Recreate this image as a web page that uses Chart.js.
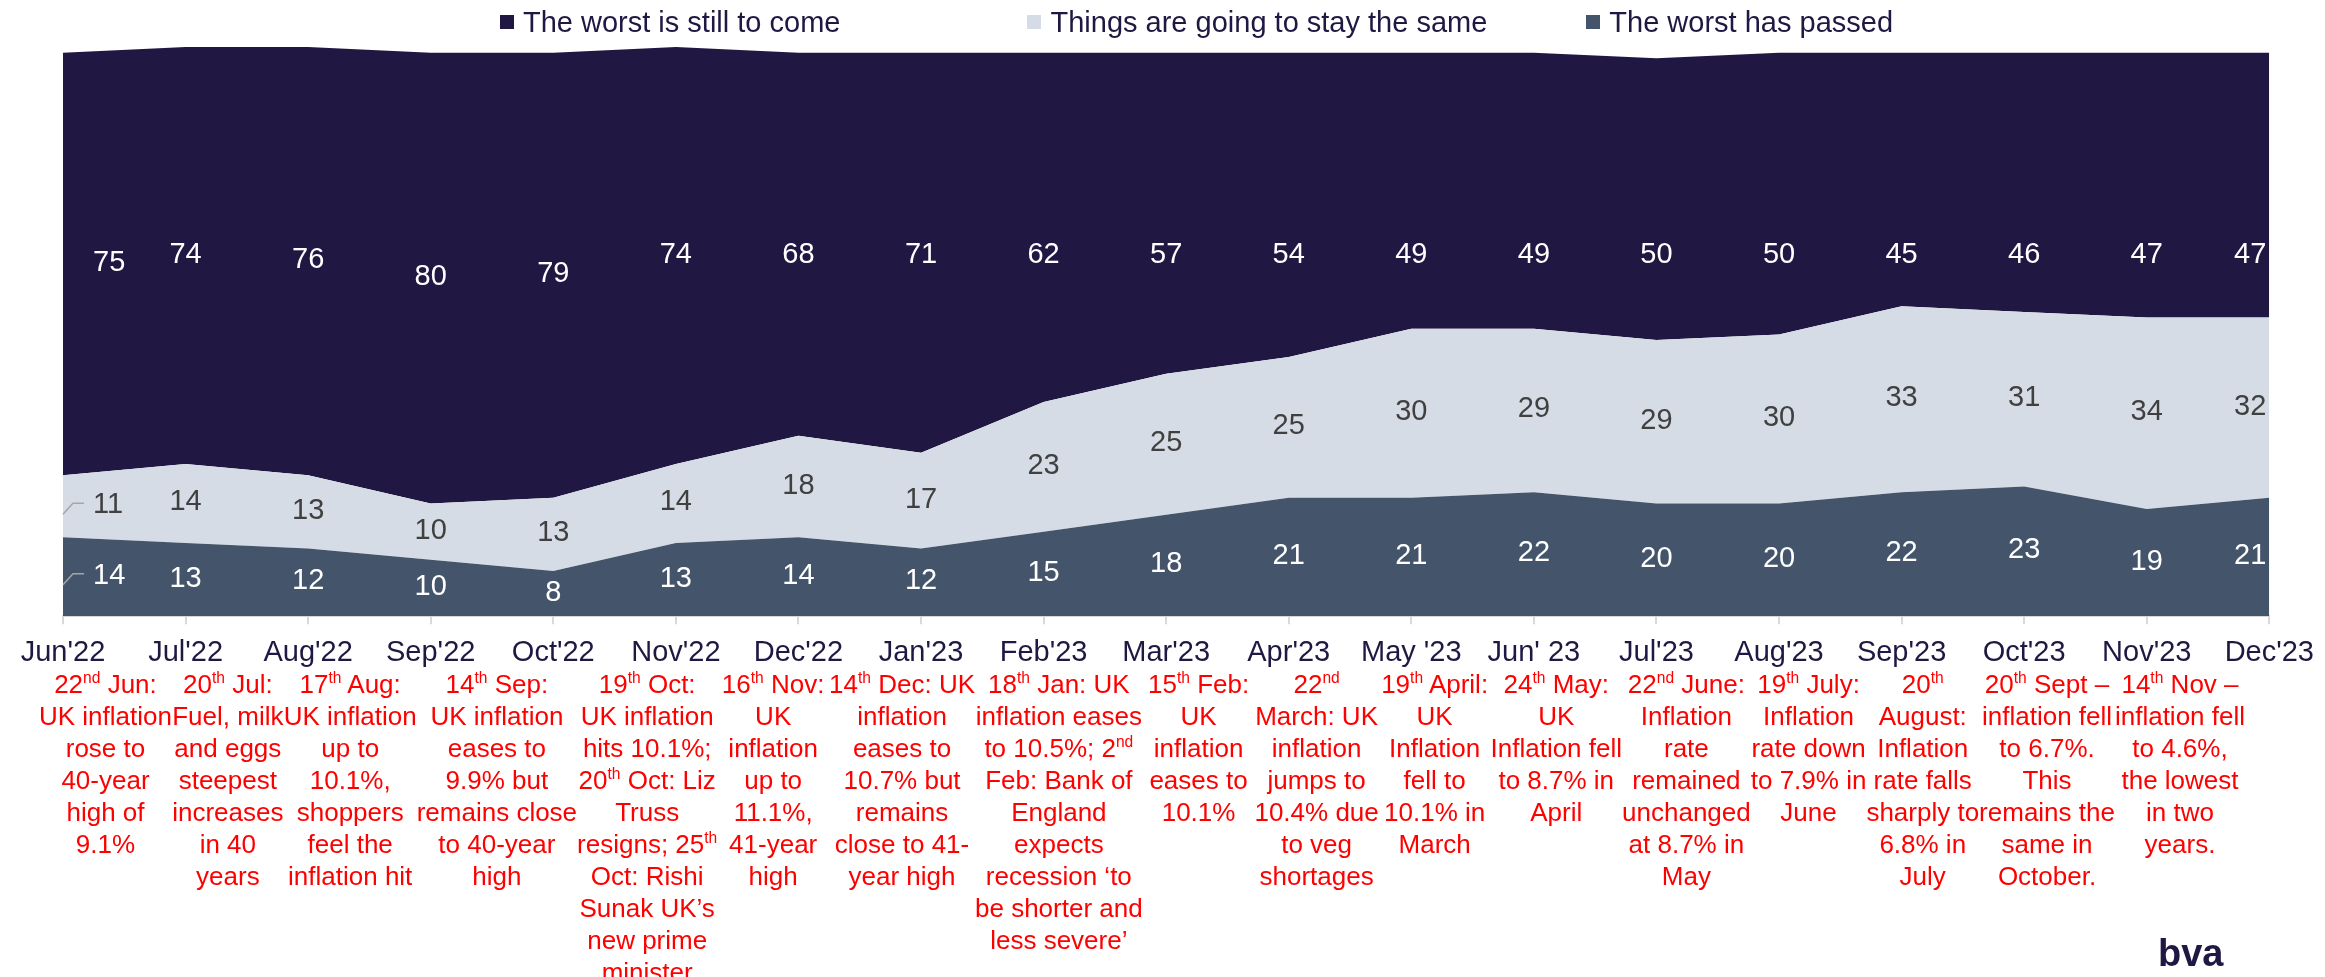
<!DOCTYPE html>
<html lang="en">
<head>
<meta charset="UTF-8">
<title>Outlook: the worst still to come?</title>
<script src="https://cdn.jsdelivr.net/npm/chart.js@4"></script>
<style>
  html, body { margin: 0; padding: 0; background: #fff; }
  #wrap { position: relative; width: 2325px; height: 977px; overflow: hidden; }
  #legend { position: absolute; top: 5px; left: 500px; display: flex; height: 34px; line-height: 34px;
            font: 29px "Liberation Sans", Arial, sans-serif; color: #201843; white-space: nowrap; }
  #legend .item { display: flex; align-items: center; }
  #legend .box { width: 14px; height: 14px; margin-right: 9px; }
  #notes { position: absolute; top: 668px; left: 39px; width: 2206px; display: flex; }
  .note { flex: 1 1 0; text-align: center; white-space: nowrap; color: #ff0000;
          font: 26px/32px "Liberation Sans", Arial, sans-serif; }
  .note sup { font-size: 60%; line-height: 0; vertical-align: 0.62em; }
  #logo { position: absolute; left: 2158px; top: 932px; font: bold 38px "Liberation Sans", Arial, sans-serif; color: #201843; }
</style>
</head>
<body>
<div id="wrap">
  <canvas id="chart" width="2325" height="977"></canvas>
  <div id="legend"></div>
  <div id="notes"></div>
  <div id="logo">bva</div>
</div>
<script>
const months = ["Jun'22", "Jul'22", "Aug'22", "Sep'22", "Oct'22", "Nov'22", "Dec'22", "Jan'23", "Feb'23", "Mar'23",
                "Apr'23", "May '23", "Jun' 23", "Jul'23", "Aug'23", "Sep'23", "Oct'23", "Nov'23", "Dec'23"];
const worstToCome = [75, 74, 76, 80, 79, 74, 68, 71, 62, 57, 54, 49, 49, 50, 50, 45, 46, 47, 47];
const staySame    = [11, 14, 13, 10, 13, 14, 18, 17, 23, 25, 25, 30, 29, 29, 30, 33, 31, 34, 32];
const worstPassed = [14, 13, 12, 10, 8, 13, 14, 12, 15, 18, 21, 21, 22, 20, 20, 22, 23, 19, 21];

// red event notes under the axis, {..} = superscript
const notes = [
  ["22{nd} Jun:", "UK inflation", "rose to", "40-year", "high of", "9.1%"],
  ["20{th} Jul:", "Fuel, milk", "and eggs", "steepest", "increases", "in 40", "years"],
  ["17{th} Aug:", "UK inflation", "up to", "10.1%,", "shoppers", "feel the", "inflation hit"],
  ["14{th} Sep:", "UK inflation", "eases to", "9.9% but", "remains close", "to 40-year", "high"],
  ["19{th} Oct:", "UK inflation", "hits 10.1%;", "20{th} Oct: Liz", "Truss", "resigns; 25{th}", "Oct: Rishi", "Sunak UK\u2019s", "new prime", "minister"],
  ["16{th} Nov:", "UK", "inflation", "up to", "11.1%,", "41-year", "high"],
  ["14{th} Dec: UK", "inflation", "eases to", "10.7% but", "remains", "close to 41-", "year high"],
  ["18{th} Jan: UK", "inflation eases", "to 10.5%; 2{nd}", "Feb: Bank of", "England", "expects", "recession \u2018to", "be shorter and", "less severe\u2019"],
  ["15{th} Feb:", "UK", "inflation", "eases to", "10.1%"],
  ["22{nd}", "March: UK", "inflation", "jumps to", "10.4% due", "to veg", "shortages"],
  ["19{th} April:", "UK", "Inflation", "fell to", "10.1% in", "March"],
  ["24{th} May:", "UK", "Inflation fell", "to 8.7% in", "April"],
  ["22{nd} June:", "Inflation", "rate", "remained", "unchanged", "at 8.7% in", "May"],
  ["19{th} July:", "Inflation", "rate down", "to 7.9% in", "June"],
  ["20{th}", "August:", "Inflation", "rate falls", "sharply to", "6.8% in", "July"],
  ["20{th} Sept \u2013", "inflation fell", "to 6.7%.", "This", "remains the", "same in", "October."],
  ["14{th} Nov \u2013", "inflation fell", "to 4.6%,", "the lowest", "in two", "years."]
];

Chart.defaults.font.family = '"Liberation Sans", Arial, sans-serif';

// value labels inside each band
const areaLabels = {
    id: 'areaLabels',
    afterDatasetsDraw(chart) {
        const {ctx, chartArea, scales: {x, y}} = chart;
        const base = months.map(() => 0);
        const last = months.length - 1;
        ctx.save();
        ctx.font = '29px "Liberation Sans", Arial, sans-serif';
        ctx.textBaseline = 'middle';
        chart.data.datasets.forEach((ds) => {
            ds.data.forEach((v, i) => {
                const lo = base[i];
                const hi = lo + v;
                base[i] = hi;
                let mid = (lo + hi) / 2;
                if (ds.labelCap) mid = Math.min(mid, ds.labelCap);
                let px = x.getPixelForValue(i);
                const py = y.getPixelForValue(mid) - 1;
                if (i === 0) {
                    ctx.textAlign = 'left';
                    if (ds.leader) {
                        ctx.strokeStyle = '#a6a6a6';
                        ctx.lineWidth = 1.5;
                        ctx.beginPath();
                        ctx.moveTo(px, py + 9);
                        ctx.lineTo(px + 10, py - 2);
                        ctx.lineTo(px + 21, py - 2);
                        ctx.stroke();
                    }
                    px += 30;
                } else if (i === last) {
                    ctx.textAlign = 'right';
                    px = chartArea.right - 3;
                } else {
                    ctx.textAlign = 'center';
                }
                ctx.fillStyle = ds.labelColor;
                ctx.fillText(String(v), px, py);
            });
        });
        ctx.restore();
    }
};

const ctx = document.getElementById('chart').getContext('2d');
const chart = new Chart(ctx, {
    type: 'line',
    data: {
        labels: months,
        datasets: [
            { label: 'The worst has passed', data: worstPassed, backgroundColor: '#44546a',
              fill: 'origin', labelColor: '#ffffff', leader: true },
            { label: 'Things are going to stay the same', data: staySame, backgroundColor: '#d6dce5',
              fill: '-1', labelColor: '#404040', leader: true },
            { label: 'The worst is still to come', data: worstToCome, backgroundColor: '#201843',
              fill: '-1', labelColor: '#ffffff', labelCap: 64 }
        ]
    },
    options: {
        responsive: false,
        animation: false,
        elements: {
            line: { borderWidth: 0, tension: 0 },
            point: { radius: 0, hoverRadius: 0 }
        },
        layout: { padding: { left: 63, right: 46, top: 47, bottom: 296 } },
        plugins: {
            legend: { display: false },
            tooltip: { enabled: false }
        },
        scales: {
            x: {
                grid: { drawOnChartArea: false, drawTicks: true, tickLength: 8, color: '#d9d9d9', lineWidth: 2 },
                border: { color: '#d9d9d9', width: 2 },
                ticks: { color: '#201843', font: { size: 29 }, maxRotation: 0, autoSkip: false, padding: 11 }
            },
            y: { display: false, stacked: true, min: 0, max: 101 }
        }
    },
    plugins: [areaLabels]
});

// legend, top series first
const legend = document.getElementById('legend');
const gaps = [187, 99, 0];
chart.data.datasets.slice().reverse().forEach((ds, k) => {
    const item = document.createElement('div');
    item.className = 'item';
    item.style.marginRight = gaps[k] + 'px';
    item.innerHTML = '<span class="box" style="background:' + ds.backgroundColor + '"></span>' + ds.label;
    legend.appendChild(item);
});

// event notes
const box = document.getElementById('notes');
notes.forEach(lines => {
    const col = document.createElement('div');
    col.className = 'note';
    col.innerHTML = lines.map(s => s.replace(/\{(\w+)\}/g, '<sup>$1</sup>')).join('<br>');
    box.appendChild(col);
});
</script>
</body>
</html>
